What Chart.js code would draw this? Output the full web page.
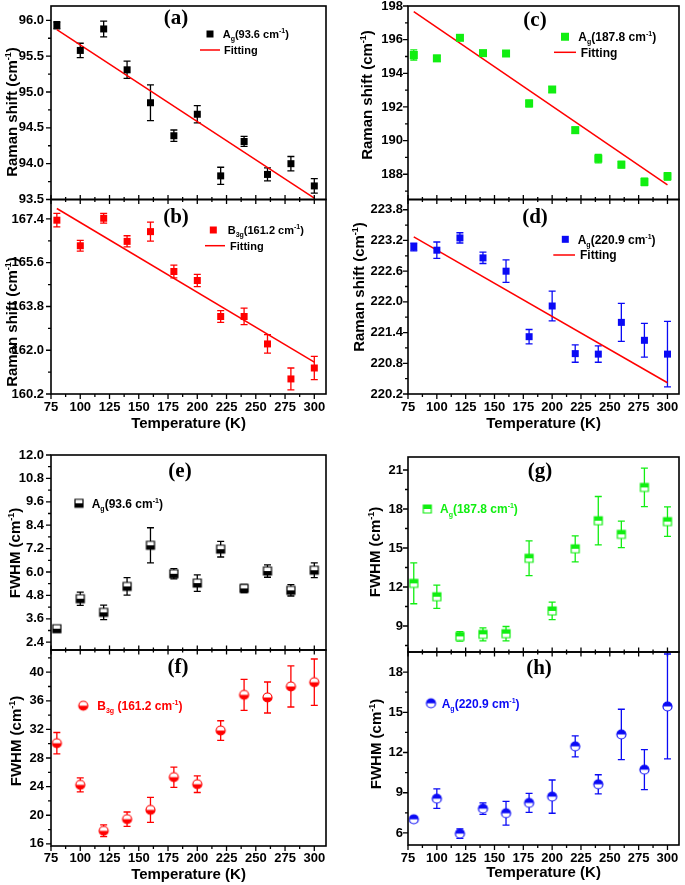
<!DOCTYPE html>
<html>
<head>
<meta charset="utf-8">
<title>Raman shift and FWHM versus temperature</title>
<script src="https://cdn.jsdelivr.net/npm/chart.js@4.4.1/dist/chart.umd.min.js"></script>
<style>
  html, body { margin: 0; padding: 0; background: #ffffff; }
  #figure { position: relative; width: 685px; height: 885px; overflow: hidden; background: #ffffff; }
  #figure canvas { position: absolute; }
</style>
</head>
<body>
<div id="figure"></div>
<script>
// ---------------- data ----------------
const temperatures = [80, 100, 120, 140, 160, 180, 200, 220, 240, 260, 280, 300];
const temperatureTicks = [75, 100, 125, 150, 175, 200, 225, 250, 275, 300];
const fitTemperatures = [80, 300];

// (a) Ag 93.6 cm-1 Raman shift
const shiftAg93 = [95.93, 95.58, 95.88, 95.31, 94.85, 94.39, 94.69, 93.83, 94.31, 93.85, 94.00, 93.69];
const errShiftAg93 = [0.05, 0.10, 0.11, 0.12, 0.25, 0.08, 0.12, 0.12, 0.07, 0.09, 0.10, 0.10];
const fitShiftAg93 = [95.87, 93.52];
const ticksShiftAg93 = [93.5, 94.0, 94.5, 95.0, 95.5, 96.0];

// (b) B3g 161.2 cm-1 Raman shift
const shiftB3g = [167.35, 166.30, 167.43, 166.48, 166.88, 165.24, 164.87, 163.39, 163.39, 162.26, 160.82, 161.27];
const errShiftB3g = [0.28, 0.22, 0.20, 0.23, 0.39, 0.26, 0.25, 0.24, 0.34, 0.38, 0.45, 0.48];
const fitShiftB3g = [167.83, 161.51];
const ticksShiftB3g = [160.2, 162.0, 163.8, 165.6, 167.4];

// (c) Ag 187.8 cm-1 Raman shift
const shiftAg188 = [195.09, 194.89, 196.11, 195.20, 195.18, 192.21, 193.04, 190.62, 188.93, 188.57, 187.55, 187.88];
const errShiftAg188 = [0.30, 0.18, 0.14, 0.15, 0.14, 0.20, 0.17, 0.18, 0.25, 0.19, 0.22, 0.22];
const fitShiftAg188 = [197.67, 187.37];
const ticksShiftAg188 = [188, 190, 192, 194, 196, 198];

// (d) Ag 220.9 cm-1 Raman shift
const shiftAg221 = [223.07, 223.01, 223.25, 222.86, 222.60, 221.32, 221.92, 220.99, 220.98, 221.60, 221.25, 220.98];
const errShiftAg221 = [0.075, 0.16, 0.10, 0.11, 0.22, 0.14, 0.29, 0.17, 0.16, 0.37, 0.33, 0.64];
const fitShiftAg221 = [223.27, 220.42];
const ticksShiftAg221 = [220.2, 220.8, 221.4, 222.0, 222.6, 223.2, 223.8];

// (e) Ag 93.6 cm-1 FWHM
const fwhmAg93 = [3.09, 4.63, 3.93, 5.26, 7.37, 5.91, 5.43, 7.17, 5.16, 6.05, 5.06, 6.09];
const errFwhmAg93 = [0.15, 0.34, 0.37, 0.45, 0.90, 0.26, 0.42, 0.40, 0.21, 0.32, 0.29, 0.38];
const ticksFwhmAg93 = [2.4, 3.6, 4.8, 6.0, 7.2, 8.4, 9.6, 10.8, 12.0];

// (f) B3g 161.2 cm-1 FWHM
const fwhmB3g = [30.07, 24.25, 17.82, 19.45, 20.75, 25.32, 24.34, 31.84, 36.83, 36.46, 38.00, 38.60];
const errFwhmB3g = [1.50, 0.98, 0.82, 1.00, 1.75, 1.42, 1.16, 1.37, 2.17, 2.17, 2.87, 3.24];
const ticksFwhmB3g = [16, 20, 24, 28, 32, 36, 40];

// (g) Ag 187.8 cm-1 FWHM
const fwhmAg188 = [12.28, 11.25, 8.20, 8.36, 8.41, 14.21, 10.16, 14.94, 17.10, 16.05, 19.66, 17.03];
const errFwhmAg188 = [1.57, 0.90, 0.36, 0.50, 0.55, 1.34, 0.67, 1.00, 1.86, 1.02, 1.48, 1.14];
const ticksFwhmAg188 = [9, 12, 15, 18, 21];

// (h) Ag 220.9 cm-1 FWHM
const fwhmAg221 = [7.02, 8.56, 5.95, 7.81, 7.47, 8.24, 8.71, 12.46, 9.63, 13.35, 10.72, 15.44];
const errFwhmAg221 = [0.22, 0.73, 0.36, 0.43, 0.88, 0.71, 1.24, 0.78, 0.71, 1.88, 1.49, 3.91];
const ticksFwhmAg221 = [6, 9, 12, 15, 18];

// texts
const ramanTitle = 'Raman shift (cm^{-1})';
const fwhmTitle = 'FWHM (cm^{-1})';
const temperatureTitle = 'Temperature (K)';
const fittingLabel = 'Fitting';

// ---------------- style ----------------
const FONT = '"Liberation Sans", Arial, Helvetica, sans-serif';
const SERIF = '"Liberation Serif", "Times New Roman", serif';
const BLACK = '#000000', RED = '#ff0000', GREEN = '#11ee11', BLUE = '#0a0af5';
const CAP = 3.5;

const COLS = [
  { cl: 0,   cw: 335, l: 51,  r: 326, yPad: 7 },
  { cl: 345, cw: 340, l: 408, r: 683, yPad: 5 }
];

function makeMarker(shape, size, color, half) {
  const pad = 2;
  const c = document.createElement('canvas');
  c.width = size + pad * 2; c.height = size + pad * 2;
  const g = c.getContext('2d');
  const cx = c.width / 2, cy = c.height / 2, r = size / 2;
  const path = () => {
    g.beginPath();
    if (shape === 'square') g.rect(cx - r, cy - r, size, size);
    else g.arc(cx, cy, r, 0, Math.PI * 2);
  };
  if (!half) { path(); g.fillStyle = color; g.fill(); return c; }
  path(); g.fillStyle = '#ffffff'; g.fill();
  g.save(); path(); g.clip(); g.fillStyle = color;
  if (half === 'bottom') g.fillRect(0, cy, c.width, c.height - cy);
  else g.fillRect(0, 0, c.width, cy);
  g.restore();
  path(); g.lineWidth = 1.2; g.strokeStyle = color; g.stroke();
  return c;
}

function parseRich(str) {
  const out = []; const re = /([_^])\{([^}]*)\}/g; let last = 0, m;
  while ((m = re.exec(str))) {
    if (m.index > last) out.push({ t: str.slice(last, m.index) });
    out.push({ t: m[2], sub: m[1] === '_', sup: m[1] === '^' });
    last = re.lastIndex;
  }
  if (last < str.length) out.push({ t: str.slice(last) });
  return out;
}

function drawRich(ctx, str, x, y, size, color, align) {
  const parts = parseRich(str);
  let w = 0;
  const segs = parts.map(s => {
    const sz = (s.sub || s.sup) ? Math.round(size * 0.62) : size;
    ctx.font = 'bold ' + sz + 'px ' + FONT;
    const mw = ctx.measureText(s.t).width;
    w += mw;
    return { t: s.t, sz, mw, dy: s.sub ? size * 0.28 : (s.sup ? -size * 0.42 : 0) };
  });
  let cx = align === 'center' ? x - w / 2 : x;
  ctx.fillStyle = color; ctx.textBaseline = 'alphabetic'; ctx.textAlign = 'left';
  segs.forEach(s => { ctx.font = 'bold ' + s.sz + 'px ' + FONT; ctx.fillText(s.t, cx, y + s.dy); cx += s.mw; });
}

function minorValues(ticks, min, max) {
  const step = ticks[1] - ticks[0];
  const out = [];
  const k0 = Math.floor((min - ticks[0]) / step) - 1;
  const k1 = Math.ceil((max - ticks[0]) / step) + 1;
  for (let k = k0; k <= k1; k++) {
    const v = ticks[0] + (k + 0.5) * step;
    if (v > min + 1e-9 && v < max - 1e-9) out.push(v);
  }
  return out;
}

const panels = [
  { col: 0, top: 5, bottom: 199.5, showX: false, yMin: 93.5, yMax: 96.2, yTicks: ticksShiftAg93, decimals: 1,
    values: shiftAg93, errors: errShiftAg93, fit: fitShiftAg93, color: BLACK,
    marker: makeMarker('square', 7, BLACK),
    legend: { mx: 210, my: 34, text: 'A_{g}(93.6 cm^{-1})', tx: 222.7, size: 11, color: BLACK, fit: { x1: 200, x2: 220, y: 50, tx: 224 } },
    tag: '(a)', tagPos: [176, 19], yTitle: ramanTitle, yTitlePos: [12, 112] },
  { col: 0, top: 199.5, bottom: 394, showX: true, xLabelY: 407.5, xTitleY: 424, yMin: 160.2, yMax: 168.2, yTicks: ticksShiftB3g, decimals: 1,
    values: shiftB3g, errors: errShiftB3g, fit: fitShiftB3g, color: RED,
    marker: makeMarker('square', 7, RED),
    legend: { mx: 213.3, my: 230, text: 'B_{3g}(161.2 cm^{-1})', tx: 227.7, size: 11, color: BLACK, fit: { x1: 205, x2: 225, y: 245.7, tx: 230 } },
    tag: '(b)', tagPos: [176, 218], yTitle: ramanTitle, yTitlePos: [12, 322] },
  { col: 1, top: 5, bottom: 199.5, showX: false, yMin: 186.5, yMax: 198, yTicks: ticksShiftAg188, decimals: 0,
    values: shiftAg188, errors: errShiftAg188, fit: fitShiftAg188, color: GREEN,
    marker: makeMarker('square', 8, GREEN),
    legend: { mx: 565, my: 36.7, text: 'A_{g}(187.8 cm^{-1})', tx: 578.3, size: 12, color: BLACK, fit: { x1: 554, x2: 576, y: 52.3, tx: 580.7 } },
    tag: '(c)', tagPos: [535, 21], yTitle: ramanTitle, yTitlePos: [367, 95] },
  { col: 1, top: 199.5, bottom: 394, showX: true, xLabelY: 407.5, xTitleY: 424, yMin: 220.2, yMax: 224.0, yTicks: ticksShiftAg221, decimals: 1,
    values: shiftAg221, errors: errShiftAg221, fit: fitShiftAg221, color: BLUE,
    marker: makeMarker('square', 7, BLUE),
    legend: { mx: 565.3, my: 239.3, text: 'A_{g}(220.9 cm^{-1})', tx: 577.7, size: 12, color: BLACK, fit: { x1: 553.3, x2: 575, y: 255, tx: 580 } },
    tag: '(d)', tagPos: [535, 218], yTitle: ramanTitle, yTitlePos: [359, 287] },
  { col: 0, top: 455, bottom: 650, showX: false, yMin: 2.0, yMax: 12.0, yTicks: ticksFwhmAg93, decimals: 1,
    values: fwhmAg93, errors: errFwhmAg93, fit: null, color: BLACK,
    marker: makeMarker('square', 8, BLACK, 'bottom'),
    legend: { mx: 79, my: 503.3, text: 'A_{g}(93.6 cm^{-1})', tx: 91.7, size: 12, color: BLACK },
    tag: '(e)', tagPos: [180, 472], yTitle: fwhmTitle, yTitlePos: [14.5, 553] },
  { col: 0, top: 650, bottom: 846, showX: true, xLabelY: 858, xTitleY: 875, yMin: 15.7, yMax: 43.1, yTicks: ticksFwhmB3g, decimals: 0,
    values: fwhmB3g, errors: errFwhmB3g, fit: null, color: RED,
    marker: makeMarker('circle', 9, RED, 'bottom'),
    legend: { mx: 83.3, my: 705.7, text: 'B_{3g} (161.2 cm^{-1})', tx: 97.3, size: 12, color: RED },
    tag: '(f)', tagPos: [178, 668], yTitle: fwhmTitle, yTitlePos: [16, 741] },
  { col: 1, top: 457, bottom: 652, showX: false, yMin: 7, yMax: 22, yTicks: ticksFwhmAg188, decimals: 0,
    values: fwhmAg188, errors: errFwhmAg188, fit: null, color: GREEN,
    marker: makeMarker('square', 8, GREEN, 'top'),
    legend: { mx: 427.3, my: 509, text: 'A_{g}(187.8 cm^{-1})', tx: 440, size: 12, color: GREEN },
    tag: '(g)', tagPos: [540, 472], yTitle: fwhmTitle, yTitlePos: [375, 552] },
  { col: 1, top: 652, bottom: 845, showX: true, xLabelY: 858, xTitleY: 873, yMin: 5.1, yMax: 19.5, yTicks: ticksFwhmAg221, decimals: 0,
    values: fwhmAg221, errors: errFwhmAg221, fit: null, color: BLUE,
    marker: makeMarker('circle', 9, BLUE, 'top'),
    legend: { mx: 431, my: 703.3, text: 'A_{g}(220.9 cm^{-1})', tx: 441.7, size: 12, color: BLUE },
    tag: '(h)', tagPos: [539, 669], yTitle: fwhmTitle, yTitlePos: [376, 744] }
];

const decor = {
  id: 'panelDecor',
  beforeDatasetsDraw(chart, args, opts) {
    const p = opts.p, ctx = chart.ctx, xs = chart.scales.x, ys = chart.scales.y;
    ctx.save();
    ctx.strokeStyle = p.color; ctx.lineWidth = 1.3;
    ctx.beginPath();
    p.values.forEach((v, i) => {
      const x = xs.getPixelForValue(temperatures[i]);
      const yHi = ys.getPixelForValue(v + p.errors[i]);
      const yLo = ys.getPixelForValue(v - p.errors[i]);
      ctx.moveTo(x, yHi); ctx.lineTo(x, yLo);
      ctx.moveTo(x - CAP, yHi); ctx.lineTo(x + CAP, yHi);
      ctx.moveTo(x - CAP, yLo); ctx.lineTo(x + CAP, yLo);
    });
    ctx.stroke();
    ctx.restore();
  },
  afterDraw(chart, args, opts) {
    const p = opts.p, ox = opts.ox, oy = opts.oy, ctx = chart.ctx, a = chart.chartArea;
    const xs = chart.scales.x, ys = chart.scales.y;
    ctx.save();
    // frame
    ctx.strokeStyle = '#000'; ctx.lineWidth = 1.6;
    ctx.strokeRect(a.left, a.top, a.right - a.left, a.bottom - a.top);
    // ticks
    ctx.lineWidth = 1.3;
    ctx.beginPath();
    p.yTicks.forEach(v => { const y = ys.getPixelForValue(v); ctx.moveTo(a.left, y); ctx.lineTo(a.left - 5, y); });
    minorValues(p.yTicks, p.yMin, p.yMax).forEach(v => { const y = ys.getPixelForValue(v); ctx.moveTo(a.left, y); ctx.lineTo(a.left - 3, y); });
    const majUp = p.showX ? 0 : 4.5, majDn = p.showX ? 5 : 4.5;
    const minUp = p.showX ? 0 : 2.5, minDn = p.showX ? 3 : 2.5;
    temperatureTicks.forEach(v => { const x = xs.getPixelForValue(v); ctx.moveTo(x, a.bottom - majUp); ctx.lineTo(x, a.bottom + majDn); });
    minorValues(temperatureTicks, xs.min, xs.max).forEach(v => { const x = xs.getPixelForValue(v); ctx.moveTo(x, a.bottom - minUp); ctx.lineTo(x, a.bottom + minDn); });
    ctx.stroke();
    // panel tag
    ctx.fillStyle = '#000'; ctx.font = 'bold 21px ' + SERIF; ctx.textAlign = 'center'; ctx.textBaseline = 'middle';
    ctx.fillText(p.tag, p.tagPos[0] - ox, p.tagPos[1] - oy);
    // legend
    const L = p.legend;
    ctx.drawImage(p.marker, L.mx - ox - p.marker.width / 2, L.my - oy - p.marker.height / 2);
    drawRich(ctx, L.text, L.tx - ox, L.my - oy + L.size * 0.36, L.size, L.color, 'left');
    if (L.fit) {
      ctx.strokeStyle = RED; ctx.lineWidth = 1.5;
      ctx.beginPath(); ctx.moveTo(L.fit.x1 - ox, L.fit.y - oy); ctx.lineTo(L.fit.x2 - ox, L.fit.y - oy); ctx.stroke();
      drawRich(ctx, fittingLabel, L.fit.tx - ox, L.fit.y - oy + L.size * 0.36, L.size, BLACK, 'left');
    }
    // y axis title (rotated)
    ctx.translate(p.yTitlePos[0] - ox, p.yTitlePos[1] - oy);
    ctx.rotate(-Math.PI / 2);
    drawRich(ctx, p.yTitle, 0, 5.4, 15, '#000', 'center');
    ctx.restore();
  }
};

const fig = document.getElementById('figure');
panels.forEach(p => {
  const col = COLS[p.col];
  const ct = Math.max(0, Math.floor(p.top - 12));
  let xAxisH = 0, cb;
  if (p.showX) { xAxisH = p.xTitleY + 9 - p.bottom; cb = p.bottom + xAxisH + 1; }
  else cb = p.bottom + 10;
  const ch = Math.ceil(cb - ct);
  const canvas = document.createElement('canvas');
  canvas.width = col.cw; canvas.height = ch;
  canvas.style.left = col.cl + 'px'; canvas.style.top = ct + 'px';
  canvas.style.width = col.cw + 'px'; canvas.style.height = ch + 'px';
  fig.appendChild(canvas);

  const padBottom = ch - (p.bottom - ct) - xAxisH;
  const datasets = [{
    label: 'data',
    data: temperatures.map((t, i) => ({ x: t, y: p.values[i] })),
    pointStyle: p.marker, pointRadius: 5, showLine: false
  }];
  if (p.fit) datasets.push({
    type: 'line', label: fittingLabel,
    data: fitTemperatures.map((t, i) => ({ x: t, y: p.fit[i] })),
    borderColor: RED, borderWidth: 1.5, pointRadius: 0, fill: false, tension: 0
  });
  const tickFont = { family: FONT, size: 13, weight: 'bold' };
  new Chart(canvas, {
    type: 'scatter',
    data: { datasets },
    options: {
      responsive: false, animation: false, devicePixelRatio: 1,
      layout: { padding: { left: 0, top: p.top - ct, right: col.cl + col.cw - col.r, bottom: padBottom } },
      plugins: { legend: { display: false }, tooltip: { enabled: false }, panelDecor: { p, ox: col.cl, oy: ct } },
      scales: {
        x: {
          type: 'linear', min: 75, max: 310, bounds: 'data', display: p.showX,
          grid: { display: false, drawTicks: false, tickLength: 0 }, border: { display: false },
          ticks: { font: tickFont, color: '#000', padding: p.showX ? p.xLabelY - p.bottom - 7.8 : 0, maxRotation: 0, autoSkip: false, callback: v => String(v) },
          title: { display: p.showX, text: temperatureTitle, font: { family: FONT, size: 15, weight: 'bold' }, color: '#000', padding: 0 },
          afterBuildTicks: s => { s.ticks = temperatureTicks.map(v => ({ value: v })); },
          afterFit: s => { if (p.showX) s.height = xAxisH; s.paddingLeft = 0; s.paddingRight = 0; }
        },
        y: {
          type: 'linear', min: p.yMin, max: p.yMax, bounds: 'data',
          grid: { display: false, drawTicks: false, tickLength: 0 }, border: { display: false },
          ticks: { font: tickFont, color: '#000', padding: col.yPad, autoSkip: false, callback: v => Number(v).toFixed(p.decimals) },
          title: { display: false, text: p.yTitle },
          afterBuildTicks: s => { s.ticks = p.yTicks.map(v => ({ value: v })); },
          afterFit: s => { s.width = col.l - col.cl; s.paddingTop = 0; s.paddingBottom = 0; }
        }
      }
    },
    plugins: [decor]
  });
});
</script>
</body>
</html>
